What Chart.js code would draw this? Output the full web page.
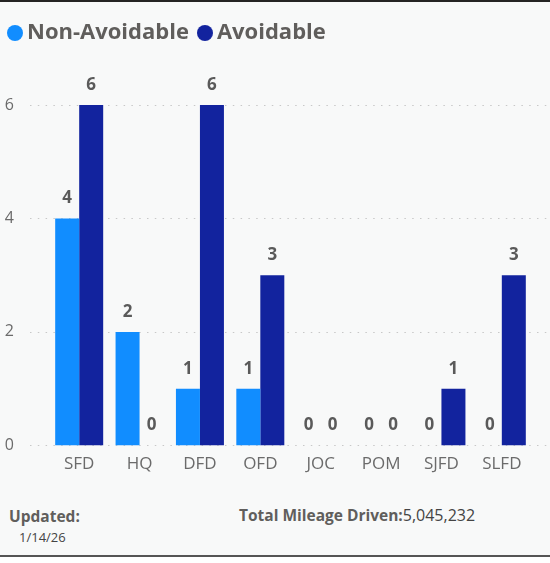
<!DOCTYPE html>
<html>
<head>
<meta charset="utf-8">
<script src="https://cdn.jsdelivr.net/npm/chart.js@4"></script>
<style>
  body { margin: 0; background: #fff; font-family: "Open Sans", sans-serif; }
  #card { position: relative; width: 550px; height: 553px; background: #f8f9f9;
          border-top: 2px solid #252423; border-bottom: 2px solid #555; }
  #wrap { position: absolute; left: 0; top: 0; width: 550px; height: 480px; }
  .t { position: absolute; color: #605e5c; font-size: 15.5px; white-space: nowrap; }
  .b { font-weight: 700; }
</style>
</head>
<body>
<div id="card">
  <div id="wrap"><canvas id="chart"></canvas></div>
  <div class="t b" style="left:9px; top:503px;">Updated:</div>
  <div class="t" style="left:19px; top:526px; font-size:13px; color:#444;">1/14/26</div>
  <div class="t" style="left:239px; top:502px;"><span class="b">Total Mileage Driven:</span><span style="color:#444; font-size:16px;">5,045,232</span></div>
</div>
<script>
const stations = ["SFD", "HQ", "DFD", "OFD", "JOC", "POM", "SJFD", "SLFD"];
const nonAvoidable = [4, 2, 1, 1, 0, 0, 0, 0];
const avoidable = [6, 0, 6, 3, 0, 0, 1, 3];
const yTicks = [0, 2, 4, 6];
const colors = ["#118dff", "#12239e"];

// small circle images for the legend, so the gap to the text stays tight
function dot(color) {
  const c = document.createElement("canvas");
  c.width = 16; c.height = 16;
  const g = c.getContext("2d");
  g.fillStyle = color;
  g.beginPath();
  g.arc(8, 8, 8, 0, Math.PI * 2);
  g.fill();
  return c;
}
const dots = colors.map(dot);

// dotted gridlines that run wider than the plot, like Power BI
const dottedGrid = {
  id: "dottedGrid",
  beforeDatasetsDraw(chart) {
    const ctx = chart.ctx;
    const y = chart.scales.y;
    ctx.save();
    ctx.strokeStyle = "#c8c8c8";
    ctx.lineWidth = 1;
    ctx.setLineDash([1.5, 6.3]);
    yTicks.forEach(v => {
      const py = Math.round(y.getPixelForValue(v)) + 0.5;
      ctx.beginPath();
      ctx.moveTo(30, py);
      ctx.lineTo(549, py);
      ctx.stroke();
    });
    ctx.restore();
  }
};

// value labels above each bar
const barLabels = {
  id: "barLabels",
  afterDatasetsDraw(chart) {
    const ctx = chart.ctx;
    ctx.save();
    ctx.font = "bold 17px 'Open Sans', sans-serif";
    ctx.fillStyle = "#5a5a5a";
    ctx.textAlign = "center";
    ctx.textBaseline = "middle";
    chart.data.datasets.forEach((ds, i) => {
      chart.getDatasetMeta(i).data.forEach((bar, j) => {
        ctx.fillText(String(ds.data[j]), bar.x, bar.y - 20);
      });
    });
    ctx.restore();
  }
};

// fixed legend height so the plot top lands where it should
const legendHeight = {
  id: "legendHeight",
  beforeInit(chart) {
    const fit = chart.legend.fit;
    chart.legend.fit = function () {
      fit.bind(chart.legend)();
      this.height = 98;
    };
  }
};

new Chart(document.getElementById("chart"), {
  type: "bar",
  data: {
    labels: stations,
    datasets: [
      { label: "Non-Avoidable", data: nonAvoidable, backgroundColor: colors[0] },
      { label: "Avoidable", data: avoidable, backgroundColor: colors[1] }
    ]
  },
  options: {
    responsive: true,
    maintainAspectRatio: false,
    animation: false,
    layout: { padding: { top: 5, right: 18, left: -1, bottom: 0 } },
    datasets: { bar: { barPercentage: 1, categoryPercentage: 0.795 } },
    plugins: {
      tooltip: { enabled: false },
      legend: {
        align: "start",
        labels: {
          usePointStyle: true,
          pointStyleWidth: 2,
          boxHeight: 16,
          padding: 15,
          color: "#605e5c",
          font: { family: "'Open Sans', sans-serif", size: 22, weight: "bold" },
          generateLabels(chart) {
            return Chart.defaults.plugins.legend.labels.generateLabels(chart)
              .map((item, i) => Object.assign(item, { pointStyle: dots[i] }));
          }
        }
      }
    },
    scales: {
      x: {
        grid: { display: false },
        border: { display: false },
        ticks: { color: "#6b6b6b", padding: 1, font: { family: "'Open Sans', sans-serif", size: 17 } },
        afterFit(s) { s.height = 33; }
      },
      y: {
        min: 0,
        max: 6,
        grid: { display: false },
        border: { display: false },
        afterBuildTicks(s) { s.ticks = yTicks.map(v => ({ value: v })); },
        ticks: { color: "#6b6b6b", padding: 27, font: { family: "'Open Sans', sans-serif", size: 16 } },
        afterFit(s) { s.width = 50; }
      }
    }
  },
  plugins: [dottedGrid, barLabels, legendHeight]
});
</script>
</body>
</html>
